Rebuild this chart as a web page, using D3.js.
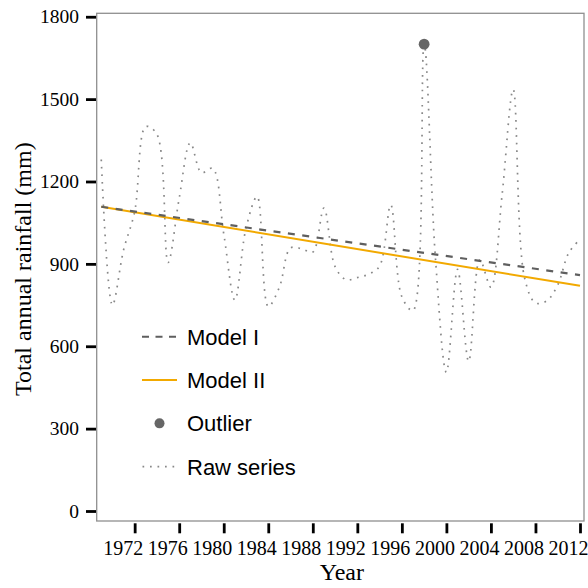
<!DOCTYPE html>
<html>
<head>
<meta charset="utf-8">
<style>
    body { margin: 0; background: #fff; }
</style>
</head>
<body>
    <div id="chart"></div>

    <script src="https://d3js.org/d3.v7.min.js"></script>
    <script type="text/javascript">
        // annual rainfall, 1969 - 2012
        var years = [1969, 1970, 1971, 1972, 1973, 1974, 1975, 1976, 1977, 1978, 1979,
            1980, 1981, 1982, 1983, 1984, 1985, 1986, 1987, 1988, 1989,
            1990, 1991, 1992, 1993, 1994, 1995, 1996, 1997, 1998, 1999,
            2000, 2001, 2002, 2003, 2004, 2005, 2006, 2007, 2008, 2009,
            2010, 2011, 2012];
        var rainfall = [1280, 750, 950, 1090, 1400, 1372, 905, 1139, 1341, 1232, 1248,
            1010, 768, 1030, 1145, 745, 815, 958, 955, 943, 1103,
            890, 842, 850, 862, 892, 1115, 780, 730, 1700, 930,
            505, 880, 545, 915, 815, 1150, 1535, 853, 758, 765,
            823, 941, 989];

        // fitted trend lines, value at first and last year
        var fitYears = [1969, 2012];
        var modelI = [1108, 859];
        var modelII = [1108, 820];

        var outlierYear = [1998];
        var outlierValue = [1700];

        var xTicks = [1972, 1976, 1980, 1984, 1988, 1992, 1996, 2000, 2004, 2008, 2012];
        var yTicks = [0, 300, 600, 900, 1200, 1500, 1800];

        var legendLabels = ["Model I", "Model II", "Outlier", "Raw series"];

        var w = 588;
        var h = 588;
        var plotL = 96.7, plotR = 584, plotT = 13.3, plotB = 521;

        var serif = "'Liberation Serif', 'Times New Roman', serif";
        var sans = "'Liberation Sans', Arial, sans-serif";

        var svg = d3.select('#chart')
            .append('svg')
            .attr('width', w)
            .attr('height', h)
            .attr('viewBox', "0 0 " + w + " " + h);

        var x = d3.scaleLinear()
            .domain([1968.59, 2012.36])
            .range([plotL, plotR]);

        var y = d3.scaleLinear()
            .domain([-36.4, 1812.5])
            .range([plotB, plotT]);

        // plot box
        svg.append('rect')
            .attr('x', plotL)
            .attr('y', plotT)
            .attr('width', plotR - plotL)
            .attr('height', plotB - plotT)
            .attr('fill', 'none')
            .attr('stroke', '#8f8f8f')
            .attr('stroke-width', 1.3);

        // axes
        var yAxis = svg.append('g')
            .attr('transform', 'translate(' + (plotL - 0.7) + ',0)')
            .call(d3.axisLeft(y).tickValues(yTicks).tickFormat(d3.format('d')).tickSize(10).tickPadding(7));

        var xAxis = svg.append('g')
            .attr('transform', 'translate(0,' + (plotB + 2.3) + ')')
            .call(d3.axisBottom(x).tickValues(xTicks).tickFormat(d3.format('d')).tickSize(10).tickPadding(7.5));

        [xAxis, yAxis].forEach(function (a) {
            a.select('.domain').remove();
            a.selectAll('.tick line')
                .attr('stroke', '#000')
                .attr('stroke-width', 2.8);
            a.selectAll('.tick text')
                .attr('fill', '#000')
                .style('font-family', serif)
                .style('font-size', '19.5px');
        });

        // year labels sit a little left of their ticks
        xAxis.selectAll('.tick text')
            .attr('dx', -12)
            .style('font-size', '20px');

        // raw series (dotted, smooth)
        var raw = years.map(function (d, i) { return [d, rainfall[i]]; });

        svg.append('path')
            .datum(raw)
            .attr('fill', 'none')
            .attr('stroke', '#888')
            .attr('stroke-width', 1.7)
            .attr('stroke-dasharray', '1.7,5.8')
            .attr('d', d3.line()
                .x(function (d) { return x(d[0]); })
                .y(function (d) { return y(d[1]); })
                .curve(d3.curveCatmullRom.alpha(0.5)));

        var fitLine = d3.line()
            .x(function (d) { return x(d[0]); })
            .y(function (d) { return y(d[1]); });

        svg.append('path')
            .datum(fitYears.map(function (d, i) { return [d, modelII[i]]; }))
            .attr('fill', 'none')
            .attr('stroke', '#f2a900')
            .attr('stroke-width', 2)
            .attr('d', fitLine);

        svg.append('path')
            .datum(fitYears.map(function (d, i) { return [d, modelI[i]]; }))
            .attr('fill', 'none')
            .attr('stroke', '#5f5f5f')
            .attr('stroke-width', 2.2)
            .attr('stroke-dasharray', '7,7.5')
            .attr('d', fitLine);

        svg.selectAll('circle.outlier')
            .data(outlierYear)
            .enter()
            .append('circle')
            .attr('class', 'outlier')
            .attr('cx', function (d) { return x(d); })
            .attr('cy', function (d, i) { return y(outlierValue[i]); })
            .attr('r', 5.4)
            .attr('fill', '#666');

        // axis titles
        svg.append('text')
            .text('Year')
            .attr('x', (plotL + plotR) / 2 + 1.5)
            .attr('y', 580)
            .attr('text-anchor', 'middle')
            .style('font-family', serif)
            .style('font-size', '24px');

        svg.append('text')
            .text('Total annual rainfall (mm)')
            .attr('transform', 'translate(31,' + ((plotT + plotB) / 2 + 2) + ') rotate(-90)')
            .attr('text-anchor', 'middle')
            .style('font-family', serif)
            .style('font-size', '24px');

        // legend
        var legend = svg.append('g');
        var ly = d3.scalePoint().domain(legendLabels).range([336.7, 466.7]);

        legend.append('line')
            .attr('x1', 142).attr('x2', 177)
            .attr('y1', ly('Model I')).attr('y2', ly('Model I'))
            .attr('stroke', '#5f5f5f')
            .attr('stroke-width', 2)
            .attr('stroke-dasharray', '7,6.5');

        legend.append('line')
            .attr('x1', 142).attr('x2', 177)
            .attr('y1', ly('Model II')).attr('y2', ly('Model II'))
            .attr('stroke', '#f2a900')
            .attr('stroke-width', 2);

        legend.append('circle')
            .attr('cx', 159.5)
            .attr('cy', ly('Outlier'))
            .attr('r', 5)
            .attr('fill', '#666');

        legend.append('line')
            .attr('x1', 142.5).attr('x2', 177)
            .attr('y1', ly('Raw series')).attr('y2', ly('Raw series'))
            .attr('stroke', '#888')
            .attr('stroke-width', 1.7)
            .attr('stroke-dasharray', '1.7,5.8');

        legend.selectAll('text')
            .data(legendLabels)
            .enter()
            .append('text')
            .text(function (d) { return d; })
            .attr('x', 187)
            .attr('y', function (d) { return ly(d); })
            .attr('dy', '0.36em')
            .style('font-family', sans)
            .style('font-size', '22px');
    </script>
</body>
</html>
